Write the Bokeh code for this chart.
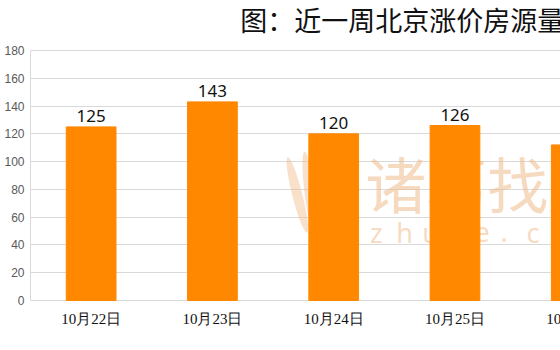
from bokeh.plotting import figure
from bokeh.models import Range1d, FixedTicker, ColumnDataSource
from bokeh.core.properties import value
from bokeh.embed import file_html
from bokeh.resources import INLINE
import numpy as np

# Data: price-raised listings in Beijing over the past week
dates = ["10月22日", "10月23日", "10月24日", "10月25日", "10月26日"]
counts = [125, 143, 120, 126, 112]
y_ticks = [0, 20, 40, 60, 80, 100, 120, 140, 160, 180]
title_text = "图：近一周北京涨价房源量"
brand_cn = "诸葛找房"
brand_en = "zhuge.com"

ORANGE = "#ff8800"
GRID = "#d9d9d9"
PEACH = "#efbb8c"
INK = "#111111"

y_max = y_ticks[-1]
x = np.arange(len(dates))
src = ColumnDataSource(dict(
    x=x, top=counts, date=dates,
    label=[str(c) for c in counts],
    zero=[0] * len(dates),
))

# plot area of 250 px for the value axis, with room above for the title
# and below for the date labels (both drawn inside the frame)
px_per_unit = 250 / y_max
p = figure(width=560, height=350, output_backend="svg", toolbar_location=None,
           x_range=Range1d(-0.5, 3.87),
           y_range=Range1d(-50 / px_per_unit, y_max + 50 / px_per_unit),
           min_border_left=30, min_border_right=0,
           min_border_top=0, min_border_bottom=0,
           background_fill_color="white", border_fill_color="white")
p.outline_line_color = None
p.xaxis.visible = False

# value axis
p.yaxis.ticker = FixedTicker(ticks=y_ticks)
p.yaxis.bounds = (0, y_max)
p.yaxis.major_tick_out = 0
p.yaxis.major_tick_in = 0
p.yaxis.minor_tick_line_color = None
p.yaxis.axis_line_color = GRID
p.yaxis.major_label_standoff = 6
p.yaxis.major_label_text_font = "Liberation Sans"
p.yaxis.major_label_text_font_size = "12px"
p.yaxis.major_label_text_color = "#595959"

p.xgrid.grid_line_color = None
p.ygrid.grid_line_color = GRID
p.ygrid.ticker = FixedTicker(ticks=y_ticks)

# title, running off the right edge
p.text(x=[0], y=[y_max], text=[title_text], x_offset=149, y_offset=-31,
       text_font=value("Noto Sans CJK SC"), text_font_size="27px",
       text_color=INK, text_align="left", text_baseline="middle")

# watermark behind the bars
p.text(x=[2.26], y=[85], text=[brand_cn], text_font=value("Noto Sans CJK SC"),
       text_font_size="61px", text_color=PEACH, text_alpha=0.55,
       text_align="left", text_baseline="middle")
en_chars = list(brand_en)
en_x = 2.30 + np.arange(len(en_chars)) * 0.215
p.text(x=en_x, y=[49] * len(en_chars), text=en_chars, text_font=value("Noto Sans"),
       text_font_size="27px", text_color=PEACH, text_alpha=0.55,
       text_align="left", text_baseline="middle")
p.ellipse(x=[1.70, 1.80, 1.90], y=[76, 78, 80], width=[10, 10, 10], height=[78, 82, 84],
          width_units="screen", height_units="screen", angle=[0.25, 0.12, 0.0],
          fill_color=PEACH, fill_alpha=0.45, line_color=None)

# bars
p.vbar(x="x", top="top", width=0.41, source=src, fill_color=ORANGE, line_color=ORANGE)

# value labels above bars
p.text(x="x", y="top", text="label", source=src, y_offset=-5,
       text_font=value("Noto Sans"), text_font_size="17px",
       text_color=INK, text_align="center", text_baseline="bottom")

# date labels under the baseline
p.text(x="x", y="zero", text="date", source=src, y_offset=18,
       text_font=value("Liberation Serif"), text_font_size="15px",
       text_color=INK, text_align="center", text_baseline="middle")

open("out.html", "w").write(file_html(p, INLINE))
